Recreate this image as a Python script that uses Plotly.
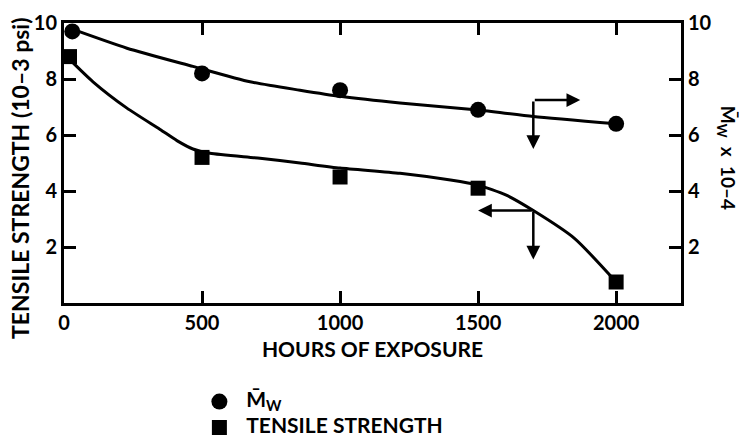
import plotly.graph_objects as go

# Measured points
hours_mw = [30, 500, 1000, 1500, 2000]
mw = [9.7, 8.2, 7.6, 6.9, 6.4]                 # Mw x 10^-4

hours_ts = [20, 500, 1000, 1500, 2000]
tensile = [8.8, 5.2, 4.5, 4.1, 0.75]           # tensile strength, 10^-3 psi

# Smooth trend curves through the measurements
fit_hours_mw = [10, 228, 467, 674, 855, 1000, 1217, 1500, 1700, 2000]
fit_mw = [9.85, 9.1, 8.45, 7.9, 7.6, 7.38, 7.14, 6.89, 6.66, 6.4]

fit_hours_ts = [20, 105, 228, 348, 409, 467, 529, 710, 855, 1000, 1217, 1400,
                1500, 1600, 1700, 1850, 2000]
fit_ts = [8.7, 7.9, 6.96, 6.2, 5.8, 5.5, 5.35, 5.17, 5.0, 4.82, 4.63, 4.39,
          4.21, 3.86, 3.3, 2.3, 0.75]

x_ticks = [0, 500, 1000, 1500, 2000]
y_ticks = [2, 4, 6, 8, 10]

FONT = "Lato, Roboto, sans-serif"
INK = "black"
GAP = "\u00a0\u00a0"


def bold(size):
    return dict(family=FONT, size=size, color=INK, weight="bold")


def big(text):
    return GAP + '<span style="font-size:21px">' + text + "</span>"


fig = go.Figure()

fig.add_trace(go.Scatter(x=fit_hours_mw, y=fit_mw, mode="lines", yaxis="y2",
                         line=dict(color=INK, width=3, shape="spline", smoothing=0.6),
                         showlegend=False, hoverinfo="skip"))
fig.add_trace(go.Scatter(x=fit_hours_ts, y=fit_ts, mode="lines",
                         line=dict(color=INK, width=3, shape="spline", smoothing=0.6),
                         showlegend=False, hoverinfo="skip"))

fig.add_trace(go.Scatter(x=hours_mw, y=mw, mode="markers", yaxis="y2",
                         name=big("M\u0304<sub>W</sub>"), legend="legend",
                         marker=dict(symbol="circle", size=16, color=INK)))
fig.add_trace(go.Scatter(x=hours_ts, y=tensile, mode="markers",
                         name=big("TENSILE STRENGTH"), legend="legend2",
                         marker=dict(symbol="square", size=15, color=INK)))


# Axis-pointer arrows: Mw curve -> right axis, tensile curve -> left axis
def arrow(x0, y0, x1, y1):
    fig.add_annotation(x=x1, y=y1, ax=x0, ay=y0, xref="x", yref="y",
                       axref="x", ayref="y", showarrow=True, text="",
                       arrowhead=2, arrowsize=1.1, arrowwidth=2.5, arrowcolor=INK)


arrow(1700, 7.25, 1870, 7.25)
arrow(1700, 7.25, 1700, 5.5)
arrow(1700, 3.3, 1500, 3.3)
arrow(1700, 3.3, 1700, 1.55)

# Axis titles as rotated annotations
fig.add_annotation(x=-0.0713, y=0.443, xref="paper", yref="paper", showarrow=False,
                   xanchor="center", yanchor="middle",
                   text="TENSILE STRENGTH (10\u20133 psi)", textangle=-90,
                   font=bold(23))
fig.add_annotation(x=1.075, y=0.518, xref="paper", yref="paper", showarrow=False,
                   xanchor="center", yanchor="middle",
                   text="M\u0304<sub>W</sub>  x  10\u20134", textangle=90,
                   font=bold(19))

axis_common = dict(showgrid=False, zeroline=False, showline=True, linecolor=INK,
                   linewidth=3, ticks="inside", ticklen=12, tickwidth=2.5,
                   tickcolor=INK, tickfont=bold(20))

legend_common = dict(xref="container", yref="container", xanchor="left",
                     yanchor="middle", font=bold(14), bgcolor="rgba(0,0,0,0)",
                     itemwidth=30)

fig.update_layout(
    width=744, height=436,
    margin=dict(l=64, r=63, t=23, b=133, autoexpand=False),
    paper_bgcolor="white", plot_bgcolor="white",
    font=dict(family=FONT, color=INK),
    xaxis=dict(range=[0, 2235], tickvals=x_ticks, mirror="ticks",
               title=dict(text="HOURS OF EXPOSURE", standoff=10, font=bold(21)),
               **axis_common),
    yaxis=dict(range=[0, 10], tickvals=y_ticks, **axis_common),
    yaxis2=dict(range=[0, 10], tickvals=y_ticks, overlaying="y", side="right",
                **axis_common),
    legend=dict(x=0.268, y=1 - 402 / 436, **legend_common),
    legend2=dict(x=0.268, y=1 - 428 / 436, **legend_common),
)

fig.write_html("out.html")
